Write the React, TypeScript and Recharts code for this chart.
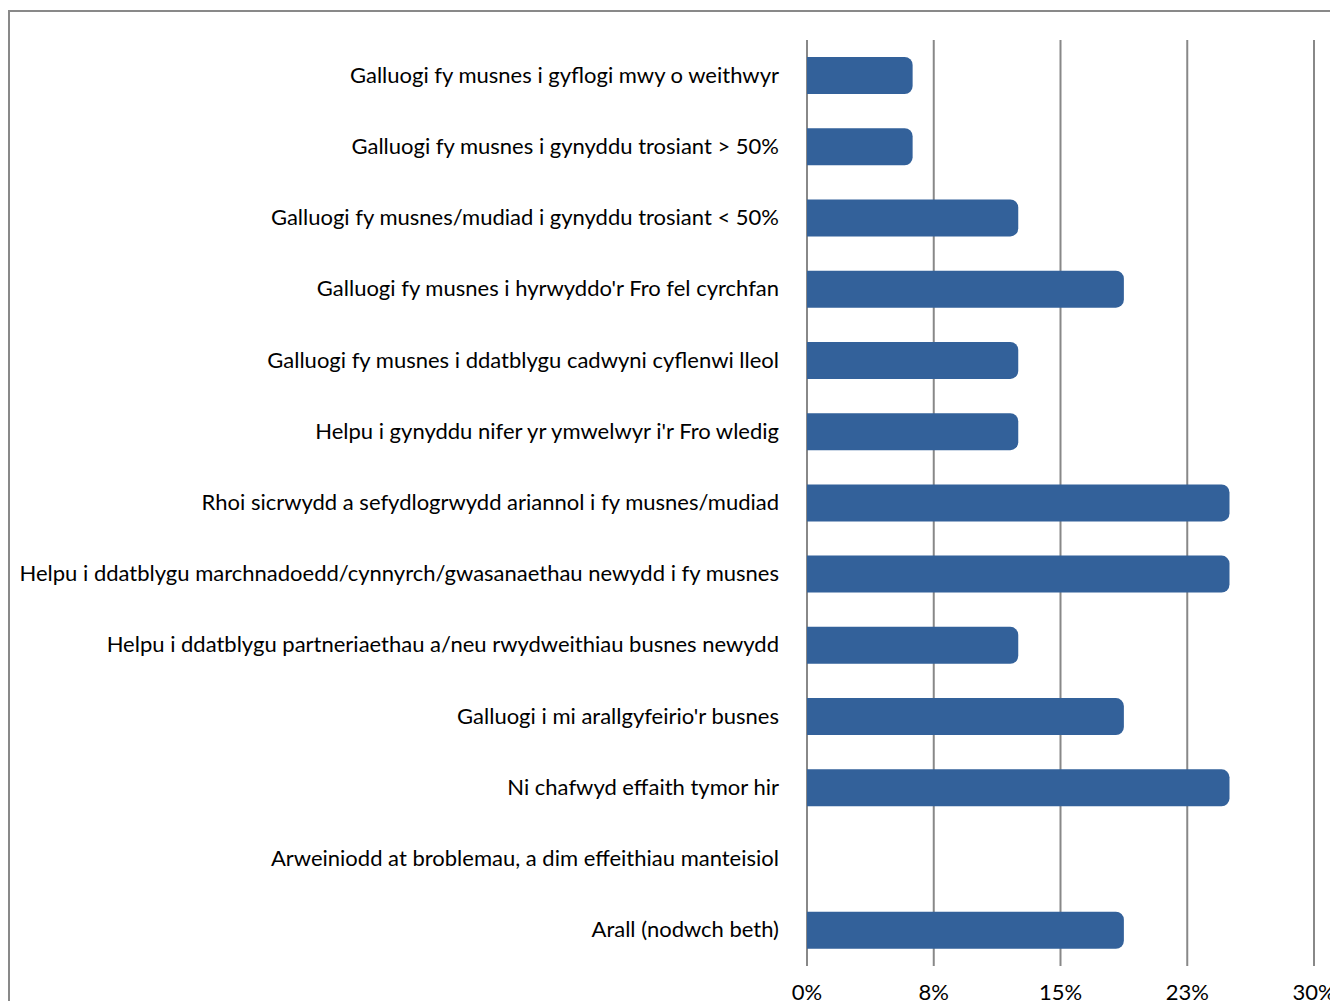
import { BarChart, Bar, XAxis, YAxis, CartesianGrid } from "recharts";

const categories = [
  "Galluogi fy musnes i gyflogi mwy o weithwyr",
  "Galluogi fy musnes i gynyddu trosiant > 50%",
  "Galluogi fy musnes/mudiad i gynyddu trosiant < 50%",
  "Galluogi fy musnes i hyrwyddo'r Fro fel cyrchfan",
  "Galluogi fy musnes i ddatblygu cadwyni cyflenwi lleol",
  "Helpu i gynyddu nifer yr ymwelwyr i'r Fro wledig",
  "Rhoi sicrwydd a sefydlogrwydd ariannol i fy musnes/mudiad",
  "Helpu i ddatblygu marchnadoedd/cynnyrch/gwasanaethau newydd i fy musnes",
  "Helpu i ddatblygu partneriaethau a/neu rwydweithiau busnes newydd",
  "Galluogi i mi arallgyfeirio'r busnes",
  "Ni chafwyd effaith tymor hir",
  "Arweiniodd at broblemau, a dim effeithiau manteisiol",
  "Arall (nodwch beth)",
];

const values = [6.25, 6.25, 12.5, 18.75, 12.5, 12.5, 25, 25, 12.5, 18.75, 25, 0, 18.75];

const xTicks = [0, 7.5, 15, 22.5, 30];

const data = categories.map((name, i) => ({ name, value: values[i] }));

const CategoryTick = (props: any) => {
  const { x, y, payload } = props;
  return (
    <text
      x={x}
      y={y}
      dy={7}
      textAnchor="end"
      fontFamily="Lato"
      fontSize={22}
      fill="#000"
    >
      {payload.value}
    </text>
  );
};

export default function App() {
  return (
    <div style={{ position: "absolute", left: 0, top: 0, width: 1330, height: 1001, overflow: "hidden", background: "#fff" }}>
      <div
        style={{
          position: "absolute",
          left: 8,
          top: 10,
          width: 1340,
          height: 1010,
          border: "2px solid #898989",
          boxSizing: "border-box",
        }}
      />
      <div style={{ position: "absolute", left: 0, top: 0 }}>
        <BarChart
          layout="vertical"
          width={1330}
          height={1001}
          data={data}
          margin={{ top: 40, right: 16, bottom: 0, left: 0 }}
        >
          <CartesianGrid horizontal={false} stroke="#888" strokeWidth={2} />
          <XAxis
            type="number"
            domain={[0, 30]}
            ticks={xTicks}
            height={35}
            axisLine={false}
            tickLine={false}
            interval={0}
            tickMargin={12}
            tick={{ fontFamily: "Lato", fontSize: 22, fill: "#000" }}
            tickFormatter={(v: number) => `${Math.round(v)}%`}
          />
          <YAxis
            type="category"
            dataKey="name"
            width={807}
            axisLine={false}
            tickLine={false}
            tickMargin={22}
            interval={0}
            tick={<CategoryTick />}
          />
          <Bar dataKey="value" fill="#33619a" barSize={37} radius={[0, 8, 8, 0]} isAnimationActive={false} />
        </BarChart>
      </div>
    </div>
  );
}
